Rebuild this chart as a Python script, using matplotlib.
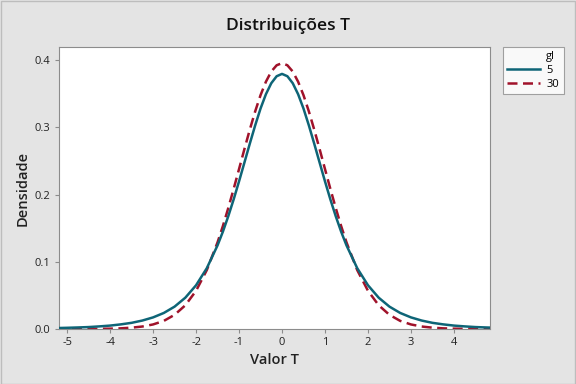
import matplotlib
matplotlib.use("Agg")
import matplotlib.pyplot as plt
from matplotlib.lines import Line2D
from matplotlib.patches import Rectangle

plt.rcParams['font.family'] = ['Open Sans', 'DejaVu Sans']

# t values (finer near the peak)
valor_t = [-5.25, -5.0, -4.75, -4.5, -4.25, -4.0, -3.75, -3.5, -3.25, -3.0,
           -2.75, -2.5, -2.25, -2.0, -1.75, -1.5, -1.375, -1.25, -1.125, -1.0,
           -0.875, -0.75, -0.625, -0.5, -0.375, -0.25, -0.125, 0.0,
           0.125, 0.25, 0.375, 0.5, 0.625, 0.75, 0.875, 1.0, 1.125, 1.25,
           1.375, 1.5, 1.75, 2.0, 2.25, 2.5, 2.75, 3.0, 3.25, 3.5,
           3.75, 4.0, 4.25, 4.5, 4.75, 5.0]
dens_gl5 = [0.0014, 0.0018, 0.0023, 0.0029, 0.0039, 0.0051, 0.0069, 0.0092, 0.0126, 0.0173,
            0.0239, 0.0333, 0.0466, 0.0651, 0.0905, 0.1245, 0.1450, 0.1679, 0.1929, 0.2197,
            0.2476, 0.2757, 0.3029, 0.3280, 0.3493, 0.3657, 0.3761, 0.3796,
            0.3761, 0.3657, 0.3493, 0.3280, 0.3029, 0.2757, 0.2476, 0.2197, 0.1929, 0.1679,
            0.1450, 0.1245, 0.0905, 0.0651, 0.0466, 0.0333, 0.0239, 0.0173, 0.0126, 0.0092,
            0.0069, 0.0051, 0.0039, 0.0029, 0.0023, 0.0018]
dens_gl30 = [0.0000, 0.0000, 0.0001, 0.0001, 0.0003, 0.0005, 0.0010, 0.0020, 0.0037, 0.0068,
             0.0121, 0.0211, 0.0353, 0.0569, 0.0877, 0.1290, 0.1534, 0.1801, 0.2085, 0.2380,
             0.2677, 0.2966, 0.3237, 0.3479, 0.3679, 0.3831, 0.3924, 0.3956,
             0.3924, 0.3831, 0.3679, 0.3479, 0.3237, 0.2966, 0.2677, 0.2380, 0.2085, 0.1801,
             0.1534, 0.1290, 0.0877, 0.0569, 0.0353, 0.0211, 0.0121, 0.0068, 0.0037, 0.0020,
             0.0010, 0.0005, 0.0003, 0.0001, 0.0001, 0.0000]
x_ticks = [-5, -4, -3, -2, -1, 0, 1, 2, 3, 4]
y_ticks = [0.0, 0.1, 0.2, 0.3, 0.4]

bg = "#E4E4E4"
fig = plt.figure(figsize=(5.76, 3.84), dpi=100, facecolor=bg)
ax = fig.add_axes([0.1024, 0.1432, 0.7483, 0.7344])
ax.set_facecolor("white")

ax.plot(valor_t, dens_gl5, color="#0E6577", lw=1.8, label="5", zorder=3)
ax.plot(valor_t, dens_gl30, color="#A0122A", lw=1.8, dashes=(4, 2.2), label="30", zorder=2)

ax.set_xlim(-5.19, 4.84)
ax.set_ylim(0, 0.4196)
ax.set_xticks(x_ticks)
ax.set_xticklabels([str(v) for v in x_ticks])
ax.set_yticks(y_ticks)
ax.set_yticklabels(["%.1f" % v for v in y_ticks])
ax.tick_params(direction="out", length=3, width=0.8, color="#8C8C8C",
               labelsize=8, labelcolor="#222222", pad=3)
for s in ax.spines.values():
    s.set_color("#8C8C8C")
    s.set_linewidth(0.8)

ax.set_xlabel("Valor T", fontsize=10.5, fontweight="semibold", color="#222222", labelpad=3)
ax.set_ylabel("Densidade", fontsize=10.5, fontweight="semibold", color="#222222", labelpad=4)
fig.text(0.5, 0.932, "Distribuições T", ha="center", va="center",
         fontsize=12.5, fontweight="semibold", color="#111111")

head = Line2D([], [], color="none", label="gl")
h5 = Line2D([], [], color="#0E6577", lw=1.8, label="5")
h30 = Line2D([], [], color="#A0122A", lw=1.8, dashes=(4, 2.2), label="30")
leg = fig.legend(handles=[head, h5, h30], loc="upper left",
                 bbox_to_anchor=(503 / 576, 1 - 47 / 384), fontsize=8,
                 frameon=True, fancybox=False, handlelength=2.9,
                 handletextpad=0.6, labelspacing=0.25, borderpad=0.4,
                 borderaxespad=0)
leg.get_frame().set_edgecolor("#8C8C8C")
leg.get_frame().set_linewidth(0.8)

fig.patches.append(Rectangle((0.001, 0.001), 0.997, 0.997, transform=fig.transFigure,
                             fill=False, edgecolor="#BDBDBD", lw=1))

fig.savefig("out.png", dpi=100, facecolor=bg)
